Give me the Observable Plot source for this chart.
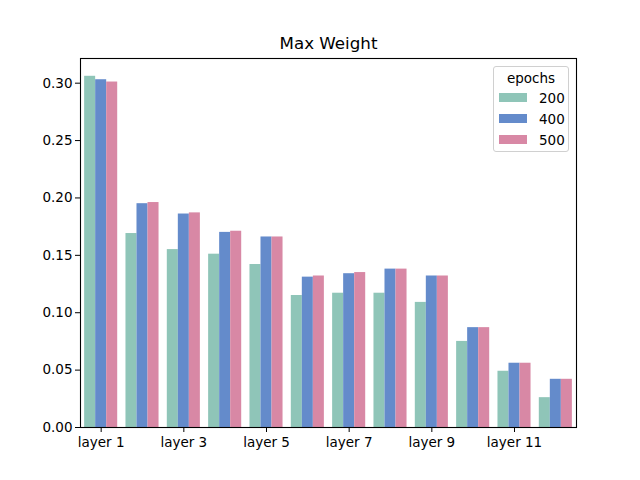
<!DOCTYPE html>
<html>
<head>
<meta charset="utf-8">
<script src="https://cdn.jsdelivr.net/npm/d3@7"></script>
<script src="https://cdn.jsdelivr.net/npm/@observablehq/plot@0.6"></script>
<style>
  html, body { margin: 0; padding: 0; background: #fff; }
  #wrap { position: relative; width: 640px; height: 480px; font-family: "DejaVu Sans", sans-serif; }
  #legend { position: absolute; left: 493px; top: 66px; width: 76px; height: 86px; box-sizing: border-box;
            border: 1px solid #d0d0d0; border-radius: 3px; background: rgba(255,255,255,0.8); font-size: 13.5px; }
  #legend .ttl { text-align: center; margin-top: 2px; height: 18px; line-height: 18px; }
  #legend .row { display: flex; align-items: center; height: 21px; }
  #legend .sw { width: 28px; height: 9px; margin-left: 5px; margin-right: 12px; }
</style>
</head>
<body>
<div id="wrap"></div>
<script>
const layers = ["layer 1","layer 2","layer 3","layer 4","layer 5","layer 6","layer 7","layer 8","layer 9","layer 10","layer 11","layer 12"];
const epochs = ["200", "400", "500"];
const v200 = [0.306, 0.169, 0.155, 0.151, 0.142, 0.115, 0.117, 0.117, 0.109, 0.075, 0.049, 0.026];
const v400 = [0.303, 0.195, 0.186, 0.170, 0.166, 0.131, 0.134, 0.138, 0.132, 0.087, 0.056, 0.042];
const v500 = [0.301, 0.196, 0.187, 0.171, 0.166, 0.132, 0.135, 0.138, 0.132, 0.087, 0.056, 0.042];
const yTicks = [0, 0.05, 0.10, 0.15, 0.20, 0.25, 0.30];
const colors = ["#8fc5b8", "#648bcb", "#d888a5"];
const title = "Max Weight";
const legendTitle = "epochs";

const series = [v200, v400, v500];
const groupWidth = 0.8;
const data = [];
layers.forEach((layer, i) => {
  epochs.forEach((ep, j) => {
    const w = groupWidth / epochs.length;
    const x1 = i - groupWidth / 2 + j * w;
    data.push({layer, epoch: ep, value: series[j][i], x1, x2: x1 + w});
  });
});
const xTicks = layers.map((d, i) => i).filter(i => i % 2 === 0);

const chart = Plot.plot({
  width: 640,
  height: 480,
  marginLeft: 80,
  marginRight: 64,
  marginTop: 58,
  marginBottom: 53,
  style: {fontFamily: "DejaVu Sans, sans-serif", fontSize: "13.5px", color: "#000", background: "#fff"},
  x: {domain: [-0.5, layers.length - 0.5], label: null},
  y: {domain: [0, 0.3215], label: null},
  color: {domain: epochs, range: colors},
  marks: [
    Plot.rectY(data, {x1: "x1", x2: "x2", y: "value", fill: "epoch", inset: 0}),
    Plot.frame({stroke: "#000", strokeWidth: 1.1}),
    Plot.axisX({ticks: xTicks, tickFormat: i => layers[i], tickSize: 5, tickPadding: 5, label: null, fontSize: 13.5}),
    Plot.axisY({ticks: yTicks, tickFormat: d3.format(".2f"), tickSize: 5, tickPadding: 3, label: null, fontSize: 13.5}),
    Plot.text([title], {frameAnchor: "top", dy: -21, text: d => d, fontSize: 16.7, fill: "#000"})
  ]
});
const wrap = document.getElementById("wrap");
wrap.appendChild(chart);

const legend = document.createElement("div");
legend.id = "legend";
let html = `<div class="ttl">${legendTitle}</div>`;
epochs.forEach((ep, j) => {
  html += `<div class="row"><div class="sw" style="background:${colors[j]}"></div><span>${ep}</span></div>`;
});
legend.innerHTML = html;
wrap.appendChild(legend);
</script>
</body>
</html>
